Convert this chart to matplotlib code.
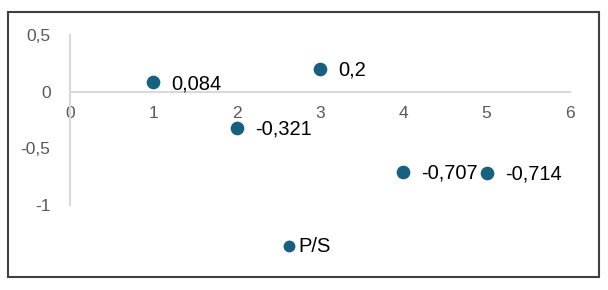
import matplotlib.pyplot as plt
from matplotlib.patches import Rectangle

plt.rcParams['font.family'] = ['Liberation Sans', 'DejaVu Sans']

x_vals = [1, 2, 3, 4, 5]
ps_vals = [0.084, -0.321, 0.2, -0.707, -0.714]
point_labels = ['0,084', '-0,321', '0,2', '-0,707', '-0,714']
x_ticks = [0, 1, 2, 3, 4, 5, 6]
y_ticks = [-1, -0.5, 0, 0.5]
y_tick_labels = ['-1', '-0,5', '0', '0,5']
series_name = 'P/S'

point_color = '#17607F'
axis_gray = '#D9D9D9'
text_gray = '#595959'

fig = plt.figure(figsize=(6.08, 2.9), dpi=100)
ax = fig.add_axes([70 / 608, 1 - 205 / 290, 500 / 608, 170 / 290])

ax.scatter(x_vals, ps_vals, s=78, color=point_color, zorder=3, label=series_name)
for xv, yv, lab in zip(x_vals, ps_vals, point_labels):
    ax.annotate(lab, (xv, yv), xytext=(13, -1), textcoords='offset points',
                va='center', ha='left', fontsize=14.5, color='black')

ax.set_xlim(0, 6)
ax.set_ylim(-1, 0.5)
ax.set_xticks(x_ticks)
ax.set_xticklabels([str(t) for t in x_ticks])
ax.set_yticks(y_ticks)
ax.set_yticklabels(y_tick_labels)

for s in ['top', 'right']:
    ax.spines[s].set_visible(False)
ax.spines['bottom'].set_position(('data', 0))
ax.spines['bottom'].set_color(axis_gray)
ax.spines['bottom'].set_linewidth(1.5)
ax.spines['left'].set_color(axis_gray)
ax.spines['left'].set_linewidth(1.5)

ax.tick_params(axis='both', length=0, labelsize=12.5, labelcolor=text_gray)
ax.tick_params(axis='x', pad=10)
ax.tick_params(axis='y', pad=14)

fig.legend(loc='center', bbox_to_anchor=(305 / 608, 1 - 246 / 290), frameon=False,
           fontsize=14.5, handletextpad=0.0, handlelength=0.9, borderpad=0.2,
           markerscale=0.85)

fig.patches.append(Rectangle((8 / 608, 1 - 277 / 290), 591 / 608, 265 / 290,
                             transform=fig.transFigure, fill=False,
                             edgecolor='#404040', linewidth=1.5))

fig.savefig('out.png', dpi=100)
